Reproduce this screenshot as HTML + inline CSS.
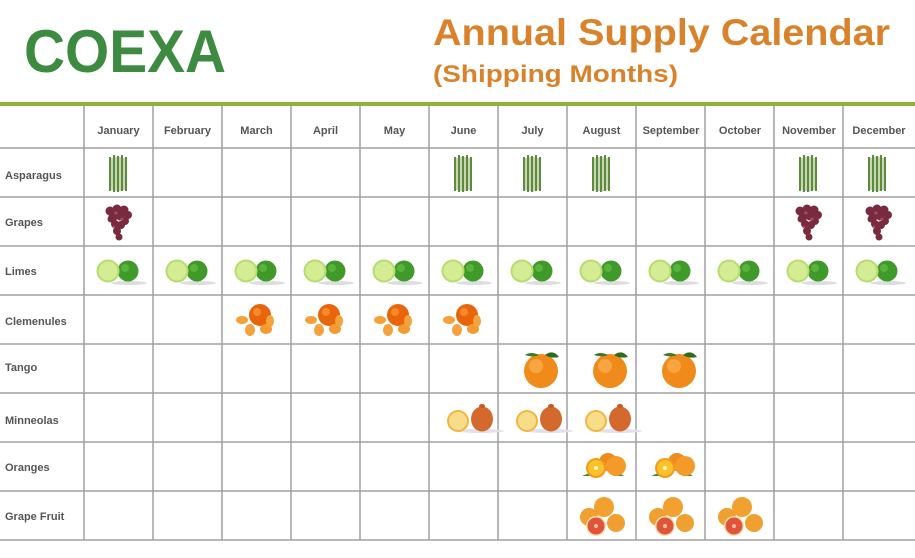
<!DOCTYPE html>
<html><head><meta charset="utf-8"><style>
html,body{margin:0;padding:0;background:#fff;}
svg{display:block}
text{font-family:"Liberation Sans",Arial,sans-serif;font-weight:bold}
</style></head><body>
<svg width="915" height="558" viewBox="0 0 915 558" xmlns="http://www.w3.org/2000/svg">
<defs>
<symbol id="asp" overflow="visible">
 <g stroke="#5f8a3e" stroke-width="2">
 <line x1="0" y1="2" x2="0" y2="36"/><line x1="4" y1="0" x2="4" y2="37"/><line x1="8" y1="1" x2="8" y2="37"/><line x1="12" y1="0" x2="12" y2="36"/><line x1="16" y1="2" x2="16" y2="36"/></g>
 <g stroke="#8fb06a" stroke-width="1"><line x1="2" y1="3" x2="2" y2="35"/><line x1="6" y1="2" x2="6" y2="36"/><line x1="10" y1="2" x2="10" y2="36"/><line x1="14" y1="3" x2="14" y2="35"/></g>
</symbol>
<symbol id="grp" overflow="visible">
 <g fill="#7a2a3e">
 <circle cx="4" cy="6" r="4.5"/><circle cx="11" cy="4" r="4.5"/><circle cx="18" cy="5" r="4.5"/><circle cx="22" cy="10" r="4"/><circle cx="7" cy="12" r="4.5"/><circle cx="14" cy="11" r="4.5"/><circle cx="19" cy="16" r="4"/><circle cx="9" cy="19" r="4"/><circle cx="15" cy="20" r="4"/><circle cx="11" cy="26" r="4"/><circle cx="13" cy="32" r="3.5"/><circle cx="5" cy="14" r="3.5"/></g>
 <g fill="#a3506a"><circle cx="10" cy="8" r="1.5"/><circle cx="16" cy="14" r="1.5"/><circle cx="8" cy="22" r="1.3"/></g>
</symbol>
<symbol id="lime" overflow="visible">
 <ellipse cx="21" cy="12" rx="18" ry="2" fill="#ddd"/>
 <circle cx="20" cy="0" r="10.5" fill="#3f9a2a"/>
 <circle cx="17" cy="-3" r="4" fill="#6cc24a" opacity=".6"/>
 <circle cx="0" cy="0" r="11.5" fill="#b6dc6e"/>
 <circle cx="0" cy="0" r="9.5" fill="#d4ec94"/>
</symbol>
<symbol id="clem" overflow="visible">
 <circle cx="4" cy="-6" r="11" fill="#e8650c"/><circle cx="1" cy="-9" r="4" fill="#f58a2a"/>
 <ellipse cx="-14" cy="-1" rx="6" ry="4" fill="#f6a03a"/>
 <ellipse cx="-6" cy="9" rx="5" ry="6" fill="#f4a23d"/>
 <ellipse cx="10" cy="8" rx="6" ry="5" fill="#f39a30"/>
 <ellipse cx="14" cy="0" rx="4" ry="6" fill="#f4a23d"/>
</symbol>
<symbol id="tango" overflow="visible">
 <circle cx="0" cy="2" r="17" fill="#f08a1a"/><circle cx="-5" cy="-3" r="7" fill="#f7a540"/>
 <path d="M4-14 q8-6 14 2 q-8 2-14-2z" fill="#2d6b1e"/><path d="M-2-14 q-8-4-14 0 q8 3 14 0z" fill="#3d7b2a"/>
</symbol>
<symbol id="minn" overflow="visible">
 <ellipse cx="10" cy="12" rx="24" ry="2" fill="#e4e0ea"/>
 <circle cx="-12" cy="2" r="11" fill="#f2b640"/><circle cx="-12" cy="2" r="9" fill="#f7dc8a"/>
 <ellipse cx="12" cy="0" rx="11" ry="12.5" fill="#d4692e"/><ellipse cx="12" cy="-13" rx="3" ry="2" fill="#c55a22"/>
</symbol>
<symbol id="orng" overflow="visible">
 <path d="M-20 10 l10-4 l2 4z" fill="#3a8a2a"/><path d="M12 4 l10 6 l-10 0z" fill="#3a8a2a"/>
 <circle cx="6" cy="-4" r="9" fill="#f08a1a"/><circle cx="14" cy="0" r="10" fill="#f39a2a"/>
 <circle cx="-6" cy="2" r="10" fill="#f29a20"/><circle cx="-6" cy="2" r="8" fill="#fcc22a"/><circle cx="-6" cy="2" r="2" fill="#fff3c0"/>
</symbol>
<symbol id="gf" overflow="visible">
 <circle cx="2" cy="-10" r="10" fill="#f2a030"/>
 <circle cx="-13" cy="0" r="9" fill="#f0a030"/>
 <circle cx="14" cy="6" r="9" fill="#f0a030"/>
 <circle cx="-6" cy="9" r="10" fill="#f7ddb0"/><circle cx="-6" cy="9" r="8.5" fill="#e0543a"/><circle cx="-6" cy="9" r="2" fill="#f7c0a0"/>
</symbol>
</defs>

<text x="24" y="72" fill="#3d8b40" font-size="60" textLength="202" lengthAdjust="spacingAndGlyphs">COEXA</text>
<text x="433" y="45" fill="#d9822b" font-size="37" textLength="457" lengthAdjust="spacingAndGlyphs">Annual Supply Calendar</text>
<text x="433" y="82" fill="#d9822b" font-size="24" textLength="245" lengthAdjust="spacingAndGlyphs">(Shipping Months)</text>

<rect x="0" y="102" width="915" height="4" fill="#8db33a"/>

<g stroke="#a0a0a0" stroke-width="1.5">
 <line x1="84" y1="106" x2="84" y2="540"/><line x1="153" y1="106" x2="153" y2="540"/><line x1="222" y1="106" x2="222" y2="540"/><line x1="291" y1="106" x2="291" y2="540"/><line x1="360" y1="106" x2="360" y2="540"/><line x1="429" y1="106" x2="429" y2="540"/><line x1="498" y1="106" x2="498" y2="540"/><line x1="567" y1="106" x2="567" y2="540"/><line x1="636" y1="106" x2="636" y2="540"/><line x1="705" y1="106" x2="705" y2="540"/><line x1="774" y1="106" x2="774" y2="540"/><line x1="843" y1="106" x2="843" y2="540"/>
 <line x1="0" y1="148" x2="915" y2="148"/><line x1="0" y1="197" x2="915" y2="197"/><line x1="0" y1="246" x2="915" y2="246"/><line x1="0" y1="295" x2="915" y2="295"/><line x1="0" y1="344" x2="915" y2="344"/><line x1="0" y1="393" x2="915" y2="393"/><line x1="0" y1="442" x2="915" y2="442"/><line x1="0" y1="491" x2="915" y2="491"/><line x1="0" y1="540" x2="915" y2="540"/>
</g>

<g fill="#555" font-size="11" text-anchor="middle">
 <text x="118.5" y="134">January</text><text x="187.5" y="134">February</text><text x="256.5" y="134">March</text><text x="325.5" y="134">April</text><text x="394.5" y="134">May</text><text x="463.5" y="134">June</text><text x="532.5" y="134">July</text><text x="601.5" y="134">August</text><text x="671" y="134">September</text><text x="740" y="134">October</text><text x="809" y="134">November</text><text x="879" y="134">December</text>
</g>
<g fill="#555" font-size="11">
 <text x="5" y="179">Asparagus</text><text x="5" y="226">Grapes</text><text x="5" y="275">Limes</text><text x="5" y="325">Clemenules</text><text x="5" y="371">Tango</text><text x="5" y="424">Minneolas</text><text x="5" y="471">Oranges</text><text x="5" y="520">Grape Fruit</text>
</g>

<use href="#asp" x="110" y="155"/><use href="#asp" x="455" y="155"/><use href="#asp" x="524" y="155"/><use href="#asp" x="593" y="155"/><use href="#asp" x="800" y="155"/><use href="#asp" x="869" y="155"/>
<use href="#grp" x="106" y="205"/><use href="#grp" x="796" y="205"/><use href="#grp" x="866" y="205"/>
<use href="#lime" x="108" y="271"/><use href="#lime" x="177" y="271"/><use href="#lime" x="246" y="271"/><use href="#lime" x="315" y="271"/><use href="#lime" x="384" y="271"/><use href="#lime" x="453" y="271"/><use href="#lime" x="522" y="271"/><use href="#lime" x="591" y="271"/><use href="#lime" x="660" y="271"/><use href="#lime" x="729" y="271"/><use href="#lime" x="798" y="271"/><use href="#lime" x="867" y="271"/>
<use href="#clem" x="256" y="321"/><use href="#clem" x="325" y="321"/><use href="#clem" x="394" y="321"/><use href="#clem" x="463" y="321"/>
<use href="#tango" x="541" y="369"/><use href="#tango" x="610" y="369"/><use href="#tango" x="679" y="369"/>
<use href="#minn" x="470" y="419"/><use href="#minn" x="539" y="419"/><use href="#minn" x="608" y="419"/>
<use href="#orng" x="602" y="466"/><use href="#orng" x="671" y="466"/>
<use href="#gf" x="602" y="517"/><use href="#gf" x="671" y="517"/><use href="#gf" x="740" y="517"/>
</svg>
</body></html>
